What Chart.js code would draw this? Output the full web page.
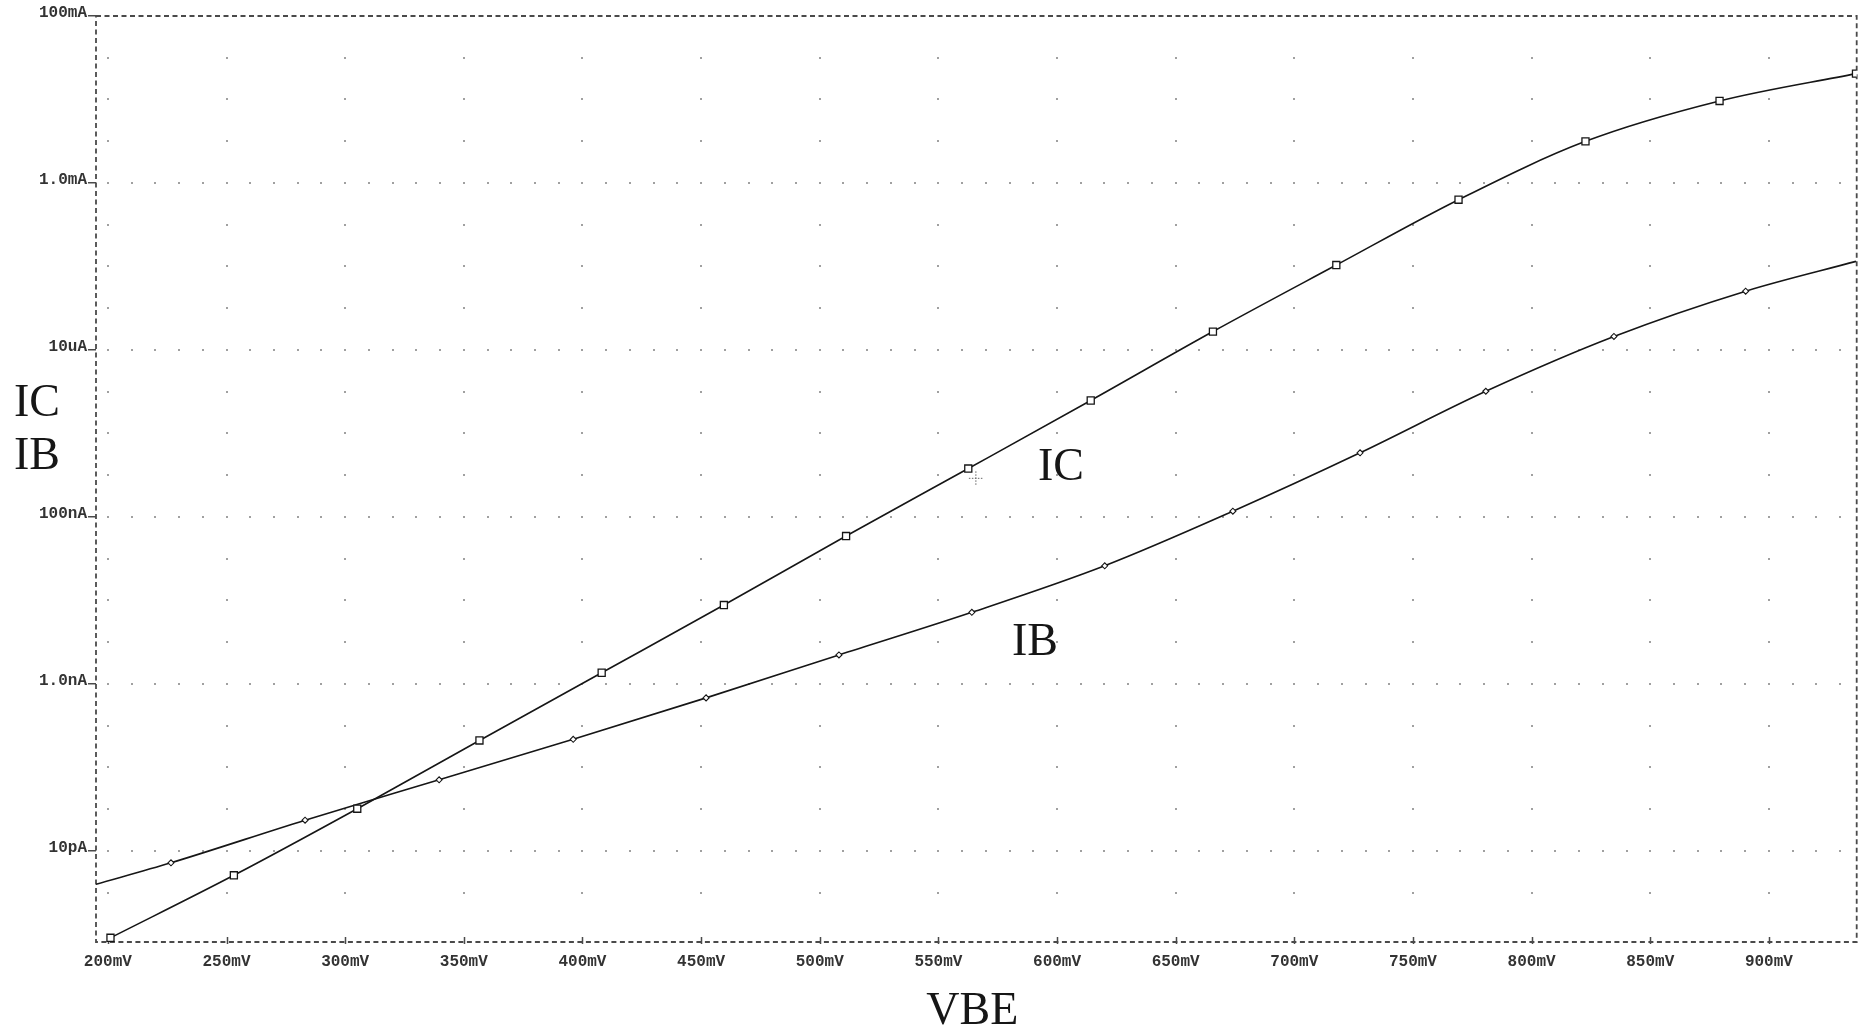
<!DOCTYPE html>
<html>
<head>
<meta charset="utf-8">
<title>IC / IB vs VBE</title>
<script src="https://cdn.jsdelivr.net/npm/chart.js@4.4.1/dist/chart.umd.min.js"></script>
<style>
    html, body { margin: 0; padding: 0; background: #fff; }
    #wrap { width: 1863px; height: 1033px; position: relative; }
</style>
</head>
<body>
<div id="wrap"><canvas id="bjtChart"></canvas></div>
<script>
// Sweep values (VBE in mV, currents in A)
const icVbe = [201.1, 253.1, 305.1, 356.6, 408.1, 459.6, 511.1, 562.6, 614.2, 665.7, 717.7, 769.2, 822.7, 879.2, 936.7];
const icAmps = [9.1e-13, 5.1e-12, 3.2e-11, 2.1e-10, 1.36e-9, 8.8e-9, 5.9e-8, 3.8e-7, 2.48e-6, 1.66e-5, 1.04e-4, 6.3e-4, 3.15e-3, 9.6e-3, 2.04e-2];

const ibVbe = [195, 226.6, 283.1, 339.6, 396.1, 452.1, 508.1, 564.1, 620.1, 674.1, 727.7, 780.7, 834.7, 890.2, 936.7];
const ibAmps = [3.98e-12, 7.2e-12, 2.33e-11, 7.1e-11, 2.17e-10, 6.8e-10, 2.22e-9, 7.2e-9, 2.6e-8, 1.17e-7, 5.86e-7, 3.2e-6, 1.45e-5, 5.06e-5, 1.15e-4];

// Axis ticks
const xTickValues = [200, 250, 300, 350, 400, 450, 500, 550, 600, 650, 700, 750, 800, 850, 900];
const xTickLabels = ['200mV', '250mV', '300mV', '350mV', '400mV', '450mV', '500mV', '550mV', '600mV', '650mV', '700mV', '750mV', '800mV', '850mV', '900mV'];
const yTickValues = [1e-1, 1e-3, 1e-5, 1e-7, 1e-9, 1e-11];
const yTickLabels = ['100mA', '1.0mA', '10uA', '100nA', '1.0nA', '10pA'];

const xMin = 195, xMax = 937;
const yMin = 8.1e-13, yMax = 1e-1;

const inkColor = '#161616';
const axisColor = '#4a4a4a';
const tickFont = { family: 'Liberation Mono', size: 16, weight: 'bold' };

// PSpice style dotted grid, dashed frame and titles
const dotGrid = {
    id: 'dotGrid',
    beforeDatasetsDraw(chart) {
        const { ctx, chartArea: area, scales: { x, y } } = chart;
        ctx.save();
        ctx.fillStyle = '#a0a0a0';
        // labelled current lines: a dot every 10 mV
        yTickValues.forEach(v => {
            const py = y.getPixelForValue(v);
            if (v >= yMax) return;
            for (let mv = 200; mv <= 930; mv += 10) {
                ctx.fillRect(Math.round(x.getPixelForValue(mv)) - 1, Math.round(py) - 1, 2, 2);
            }
        });
        // labelled voltage lines: a dot every half decade
        xTickValues.forEach(v => {
            const px = x.getPixelForValue(v);
            for (let e = -11.5; e <= -1.5; e += 0.5) {
                ctx.fillRect(Math.round(px) - 1, Math.round(y.getPixelForValue(Math.pow(10, e))) - 1, 2, 2);
            }
        });

        // dashed frame
        ctx.strokeStyle = axisColor;
        ctx.lineWidth = 1.8;
        ctx.setLineDash([5, 3.5]);
        ctx.strokeRect(area.left, area.top, area.right - area.left, area.bottom - area.top);
        ctx.setLineDash([]);

        // x tick marks point up into the plot
        ctx.lineWidth = 1.5;
        ctx.beginPath();
        xTickValues.forEach(v => {
            const px = Math.round(x.getPixelForValue(v)) + 0.5;
            ctx.moveTo(px, area.bottom - 5);
            ctx.lineTo(px, area.bottom + 2);
        });
        ctx.stroke();
        ctx.restore();
    },
    afterDraw(chart) {
        const { ctx, chartArea: area, scales: { x, y } } = chart;
        ctx.save();
        // small probe cursor
        ctx.setLineDash([1.5, 1.5]);
        ctx.lineWidth = 1;
        ctx.strokeStyle = '#666';
        const cx = x.getPixelForValue(565.8), cy = y.getPixelForValue(2.9e-7);
        ctx.beginPath();
        ctx.moveTo(cx - 7, cy); ctx.lineTo(cx + 7, cy);
        ctx.moveTo(cx, cy - 7); ctx.lineTo(cx, cy + 7);
        ctx.stroke();
        ctx.setLineDash([]);

        // titles
        ctx.fillStyle = inkColor;
        ctx.font = '46px "Liberation Serif"';
        ctx.textBaseline = 'middle';
        ctx.textAlign = 'left';
        ctx.fillText('IC', 14, 404);
        ctx.fillText('IB', 14, 457);
        ctx.fillText('IC', x.getPixelForValue(592), y.getPixelForValue(3.9e-7));
        ctx.fillText('IB', x.getPixelForValue(581), y.getPixelForValue(3.07e-9));
        ctx.textAlign = 'center';
        ctx.fillText('VBE', (area.left + area.right) / 2 - 4, 1012);
        ctx.restore();
    }
};

const lastIb = ibVbe.length - 1;

new Chart(document.getElementById('bjtChart'), {
    type: 'line',
    data: {
        datasets: [{
            label: 'IC',
            data: icVbe.map((v, i) => ({ x: v, y: icAmps[i] })),
            borderColor: inkColor,
            borderWidth: 1.6,
            cubicInterpolationMode: 'monotone',
            pointStyle: 'rect',
            pointRadius: 5,
            pointBorderWidth: 1.3,
            pointBorderColor: inkColor,
            pointBackgroundColor: '#ffffff'
        }, {
            label: 'IB',
            data: ibVbe.map((v, i) => ({ x: v, y: ibAmps[i] })),
            borderColor: inkColor,
            borderWidth: 1.6,
            cubicInterpolationMode: 'monotone',
            pointStyle: 'rectRot',
            pointRadius: ctx => (ctx.dataIndex === 0 || ctx.dataIndex === lastIb) ? 0 : 3,
            pointBorderWidth: 1.1,
            pointBorderColor: inkColor,
            pointBackgroundColor: '#ffffff'
        }]
    },
    options: {
        responsive: true,
        maintainAspectRatio: false,
        animation: false,
        layout: {
            padding: { left: 0, top: 16, right: 4, bottom: 0 }
        },
        plugins: {
            legend: { display: false },
            tooltip: { enabled: false }
        },
        scales: {
            x: {
                type: 'linear',
                min: xMin,
                max: xMax,
                afterBuildTicks: scale => {
                    scale.ticks = xTickValues.map(v => ({ value: v }));
                },
                afterFit: scale => { scale.height = 91; },
                border: { display: false },
                grid: {
                    drawOnChartArea: false,
                    drawTicks: false
                },
                ticks: {
                    autoSkip: false,
                    maxRotation: 0,
                    padding: 10,
                    color: '#333',
                    font: tickFont,
                    callback: (value, index) => xTickLabels[index]
                }
            },
            y: {
                type: 'logarithmic',
                min: yMin,
                max: yMax,
                afterBuildTicks: scale => {
                    scale.ticks = yTickValues.map(v => ({ value: v }));
                },
                afterFit: scale => { scale.width = 96; },
                border: { display: false },
                grid: {
                    drawOnChartArea: false,
                    drawTicks: true,
                    tickLength: 8,
                    lineWidth: 1.5,
                    color: axisColor
                },
                ticks: {
                    autoSkip: false,
                    padding: 1,
                    labelOffset: -3,
                    color: '#333',
                    font: tickFont,
                    callback: (value, index) => yTickLabels[index]
                }
            }
        }
    },
    plugins: [dotGrid]
});
</script>
</body>
</html>
